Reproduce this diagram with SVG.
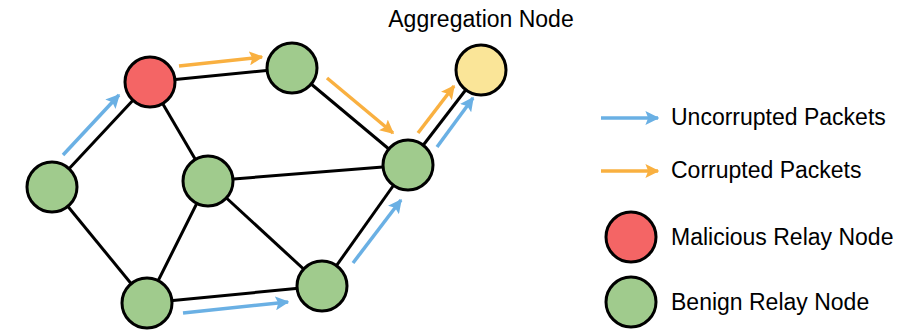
<svg xmlns="http://www.w3.org/2000/svg" width="909" height="331" viewBox="0 0 909 331">
<defs>
<style>
.edge{stroke:#000;stroke-width:3;fill:none}
.n{stroke:#000;stroke-width:3}
.g{fill:#A0CB8D}
.r{fill:#F46565}
.y{fill:#FAE598}
.blue{stroke:#6AB0E4;stroke-width:3.5;fill:none;marker-end:url(#mb)}
.orange{stroke:#F9B040;stroke-width:3.5;fill:none;marker-end:url(#mo)}
text{font-family:"Liberation Sans",Arial,sans-serif;font-size:23px;fill:#000}
</style>
<marker id="mb" viewBox="0 0 10 10" refX="9" refY="5" markerWidth="4" markerHeight="4" orient="auto" markerUnits="strokeWidth">
<path d="M0,0 L10,5 L0,10 L2,5 Z" fill="#6AB0E4"/>
</marker>
<marker id="mo" viewBox="0 0 10 10" refX="9" refY="5" markerWidth="4" markerHeight="4" orient="auto" markerUnits="strokeWidth">
<path d="M0,0 L10,5 L0,10 L2,5 Z" fill="#F9B040"/>
</marker>
</defs>
<rect width="909" height="331" fill="#fff"/>
<g id="connectors">
<line class="edge" x1="52" y1="187" x2="150" y2="82"/>
<line class="edge" x1="150" y1="82" x2="292" y2="68"/>
<line class="edge" x1="150" y1="82" x2="208" y2="181"/>
<line class="edge" x1="52" y1="187" x2="147" y2="303"/>
<line class="edge" x1="208" y1="181" x2="147" y2="303"/>
<line class="edge" x1="208" y1="181" x2="408" y2="165"/>
<line class="edge" x1="208" y1="181" x2="322" y2="286"/>
<line class="edge" x1="147" y1="303" x2="322" y2="286"/>
<line class="edge" x1="292" y1="68" x2="408" y2="165"/>
<line class="edge" x1="322" y1="286" x2="408" y2="165"/>
<line class="edge" x1="408" y1="165" x2="481" y2="70"/>
<line class="blue" x1="63" y1="155" x2="119" y2="95"/>
<line class="orange" x1="179" y1="66" x2="262" y2="57"/>
<line class="blue" x1="183" y1="313" x2="288" y2="302"/>
<line class="orange" x1="327" y1="78" x2="393" y2="133"/>
<line class="orange" x1="418" y1="133" x2="454" y2="86"/>
<line class="blue" x1="437" y1="147" x2="473" y2="98"/>
<line class="blue" x1="353" y1="263" x2="401" y2="200"/>
</g>
<g id="node-malicious"><circle class="n r" cx="150" cy="82" r="25"/></g>
<g id="node-top"><circle class="n g" cx="292" cy="68" r="25"/></g>
<g id="node-left"><circle class="n g" cx="52" cy="187" r="25"/></g>
<g id="node-middle"><circle class="n g" cx="208" cy="181" r="25"/></g>
<g id="node-bottomleft"><circle class="n g" cx="147" cy="303" r="25"/></g>
<g id="node-bottomright"><circle class="n g" cx="322" cy="286" r="25"/></g>
<g id="node-right"><circle class="n g" cx="408" cy="165" r="25"/></g>
<g id="node-aggregation"><circle class="n y" cx="481" cy="70" r="25"/>
<text x="481" y="27" text-anchor="middle">Aggregation Node</text></g>
<g id="legend">
<line class="blue" x1="601" y1="118" x2="658" y2="118"/>
<text x="671" y="125">Uncorrupted Packets</text>
<line class="orange" x1="601" y1="171" x2="658" y2="171"/>
<text x="671" y="178">Corrupted Packets</text>
<circle class="n r" cx="631" cy="237" r="25"/>
<text x="671" y="245">Malicious Relay Node</text>
<circle class="n g" cx="631" cy="302" r="25"/>
<text x="671" y="310">Benign Relay Node</text>
</g>
</svg>
